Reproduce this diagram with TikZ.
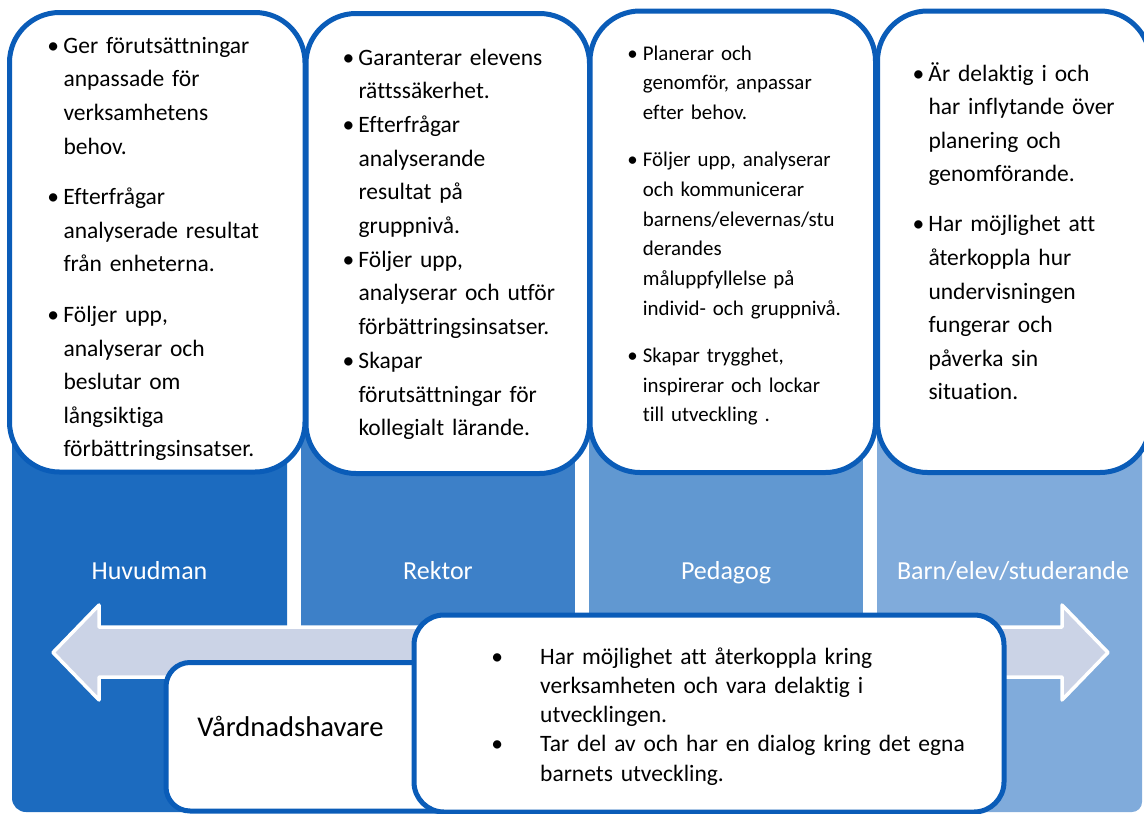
\documentclass[tikz,border=0pt]{standalone}
\usepackage{fontspec}
\setmainfont{Carlito}[Ligatures=NoCommon]
\definecolor{pone}{HTML}{1C6BBF}
\definecolor{ptwo}{HTML}{3D80C8}
\definecolor{pthree}{HTML}{6198D1}
\definecolor{pfour}{HTML}{80ABDB}
\definecolor{bord}{HTML}{0A5CB8}
\definecolor{arrowfill}{HTML}{CBD3E6}
\newlength\bw
\newcommand\bitem[1]{\ifvmode\noindent\fi\hangindent=\bw\hangafter=1\makebox[\bw][l]{\makebox[0pt][c]{\textbullet}}#1\par}
\newcommand\gap[1]{\par\vspace{#1}}
\begin{document}
\begin{tikzpicture}[x=1pt,y=-1pt,
  panel/.style={draw=none},
  topbox/.style={fill=white,draw=bord,line width=5pt,rounded corners=50pt},
  lowbox/.style={fill=white,draw=bord,line width=5pt},
  blockarrow/.style={fill=arrowfill,draw=white,line width=3.5pt,line join=round},
  txt/.style={anchor=base west,inner sep=0pt,text width=300pt,align=left,text=black},
  bigtxt/.style={txt,font=\fontsize{23.5}{33.6}\selectfont},
  lbl/.style={anchor=base,inner sep=0pt,text=white,font=\fontsize{26}{30}\selectfont}]
\useasboundingbox (0,0) rectangle (1144,814);
\clip (0,0) rectangle (1144,814);
% column panels
\fill[panel,pone,rounded corners=14pt] (12,420) rectangle (287,812);
\fill[panel,ptwo] (301,420) rectangle (575,812);
\fill[panel,pthree] (589,420) rectangle (863,812);
\fill[panel,pfour,rounded corners=10pt] (877,420) rectangle (1142,812);
% double arrow
\draw[blockarrow] (53,652.5) -- (99,605) -- (99,627) -- (1062,627) -- (1062,605)
  -- (1108,652.5) -- (1062,700) -- (1062,677) -- (99,677) -- (99,700) -- cycle;
% top boxes
\draw[topbox] (9.5,12.5) rectangle (305,472);
\draw[topbox] (306,13.5) rectangle (589.5,473.5);
\draw[topbox] (590,11) rectangle (875.5,472.5);
\draw[topbox] (877.5,11) rectangle (1150,472.5);
% labels
\node[lbl] (huvudman) at (149.5,579) {Huvudman};
\node[lbl] (rektor) at (438,579) {Rektor};
\node[lbl] (pedagog) at (726,579) {Pedagog};
\node[lbl] (barn) at (1013,579) {Barn/elev/studerande};
% box texts
\node[bigtxt] (t1) at (53,53.3) {\setlength\bw{10.3pt}%
\bitem{Ger förutsättningar\newline anpassade för\newline verksamhetens\newline behov.}\gap{17pt}%
\bitem{Efterfrågar\newline analyserade resultat\newline från enheterna.}\gap{17pt}%
\bitem{Följer upp,\newline analyserar och\newline beslutar om\newline långsiktiga\newline förbättringsinsatser.}};
\node[txt,font=\fontsize{23.5}{33.7}\selectfont] (t2) at (348.3,65) {\setlength\bw{10pt}%
\bitem{Garanterar elevens\newline rättssäkerhet.}%
\bitem{Efterfrågar\newline analyserande\newline resultat på\newline gruppnivå.}%
\bitem{Följer upp,\newline analyserar och utför\newline förbättringsinsatser.}%
\bitem{Skapar\newline förutsättningar för\newline kollegialt lärande.}};
\node[txt,font=\fontsize{20.9}{29.8}\selectfont] (t3) at (632.3,60) {\setlength\bw{10.4pt}%
\bitem{Planerar och\newline genomför, anpassar\newline efter behov.}\gap{17pt}%
\bitem{Följer upp, analyserar\newline och kommunicerar\newline barnens/elevernas/stu\newline derandes\newline måluppfyllelse på\newline individ- och gruppnivå.}\gap{17pt}%
\bitem{Skapar trygghet,\newline inspirerar och lockar\newline till utveckling .}};
\node[bigtxt] (t4) at (918.3,81) {\setlength\bw{10pt}%
\bitem{Är delaktig i och\newline har inflytande över\newline planering och\newline genomförande.}\gap{16.5pt}%
\bitem{Har möjlighet att\newline återkoppla hur\newline undervisningen\newline fungerar och\newline påverka sin\newline situation.}};
% lower boxes
\draw[lowbox,rounded corners=24pt] (166,662.5) rectangle (470,811);
\node[anchor=base,inner sep=0pt,font=\fontsize{28.6}{32}\selectfont] (vard) at (290.5,736.7) {Vårdnadshavare};
\draw[lowbox,rounded corners=30pt] (414,615) rectangle (1004,812);
\node[txt,text width=480pt,font=\fontsize{23.5}{29.3}\selectfont] (t5) at (497,664) {\setlength\bw{43pt}%
\bitem{Har möjlighet att återkoppla kring\newline verksamheten och vara delaktig i\newline utvecklingen.}%
\bitem{Tar del av och har en dialog kring det egna\newline barnets utveckling.}};
\end{tikzpicture}
\end{document}
